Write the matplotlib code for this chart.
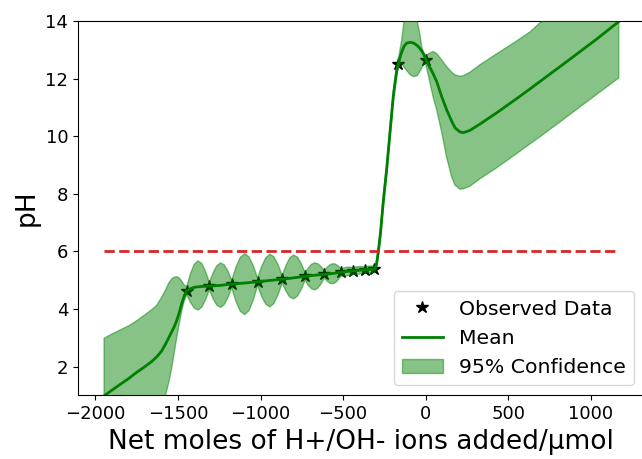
import matplotlib
matplotlib.use("Agg")
import matplotlib.pyplot as plt

# Observed titration points
obs_x = [-1448, -1310, -1175, -1018, -869, -730, -614, -513, -440, -370, -311, -166, 0]
obs_ph = [4.63, 4.79, 4.86, 4.94, 5.03, 5.13, 5.20, 5.27, 5.32, 5.36, 5.38, 12.50, 12.63]

# Model prediction grid
grid_x = [
    -1948, -1900, -1850, -1800, -1750, -1700, -1660, -1630, -1600, -1574, -1556, -1539,
    -1524, -1509, -1494, -1479, -1464, -1448,
    -1425, -1402, -1379, -1356, -1333, -1310,
    -1287, -1265, -1242, -1220, -1197, -1175,
    -1149, -1123, -1096, -1070, -1044, -1018,
    -993, -968, -943, -919, -894, -869,
    -846, -823, -800, -776, -753, -730,
    -711, -691, -672, -653, -633, -614,
    -597, -580, -564, -547, -530, -513,
    -495, -477, -458, -440,
    -423, -405, -388, -370,
    -355, -340, -325, -311,
    -304, -297, -287, -273, -257, -236, -216, -196, -176,
    -166, -156, -145, -131, -115, -95, -75, -51, -35, -24, -12, 0,
    15, 36, 46, 67, 97, 127, 158, 178, 207, 228, 268, 329, 430, 531, 632, 693, 834, 1036, 1170,
]
mean_ph = [
    0.98, 1.18, 1.38, 1.58, 1.80, 2.00, 2.17, 2.33, 2.53, 2.80, 3.00, 3.20,
    3.37, 3.58, 3.84, 4.16, 4.42, 4.63,
    4.70, 4.75, 4.77, 4.78, 4.785, 4.79,
    4.80, 4.81, 4.82, 4.835, 4.85, 4.86,
    4.873, 4.887, 4.90, 4.913, 4.927, 4.94,
    4.957, 4.973, 4.99, 5.003, 5.017, 5.03,
    5.047, 5.063, 5.08, 5.097, 5.113, 5.13,
    5.143, 5.157, 5.17, 5.18, 5.19, 5.20,
    5.21, 5.22, 5.23, 5.243, 5.257, 5.27,
    5.285, 5.30, 5.31, 5.32,
    5.33, 5.34, 5.35, 5.36,
    5.37, 5.37, 5.375, 5.38,
    5.43, 5.56, 5.97, 6.66, 7.70, 8.85, 10.12, 11.38, 12.25,
    12.48, 12.72, 12.92, 13.12, 13.23, 13.26, 13.24, 13.15, 13.05, 12.96, 12.85, 12.68,
    12.50, 12.28, 12.16, 11.90, 11.38, 10.92, 10.52, 10.29, 10.15, 10.12, 10.20, 10.42,
    10.81, 11.22, 11.64, 11.90, 12.50, 13.37, 13.98,
]
lower_ph = [
    -1.00, -0.75, -0.50, -0.25, 0.00, 0.20, 0.40, 0.55, 0.75, 1.04, 1.45, 1.93,
    2.45, 2.96, 3.45, 3.89, 4.25, 4.50,
    4.23, 4.03, 3.96, 4.06, 4.32, 4.66,
    4.35, 4.13, 4.05, 4.15, 4.40, 4.73,
    4.26, 3.92, 3.80, 3.94, 4.31, 4.81,
    4.43, 4.16, 4.07, 4.19, 4.49, 4.90,
    4.62, 4.41, 4.35, 4.45, 4.68, 5.00,
    4.82, 4.70, 4.66, 4.72, 4.87, 5.07,
    4.97, 4.89, 4.87, 4.91, 5.01, 5.14,
    5.15, 5.15, 5.17, 5.20,
    5.20, 5.21, 5.23, 5.25,
    5.26, 5.25, 5.26, 5.27,
    5.31, 5.43, 5.83, 6.50, 7.52, 8.66, 9.93, 11.20, 12.08,
    12.36, 12.50, 12.53, 12.40, 12.28, 12.14, 12.07, 12.10, 12.25, 12.36, 12.50, 12.52,
    12.15, 11.60, 11.35, 10.92, 10.15, 9.27, 8.58, 8.30, 8.16, 8.17, 8.26, 8.52,
    8.90, 9.31, 9.73, 9.98, 10.58, 11.45, 12.02,
]
upper_ph = [
    2.98, 3.13, 3.27, 3.41, 3.59, 3.80, 3.97, 4.12, 4.40, 4.68, 4.90, 5.04,
    5.10, 5.12, 5.08, 4.98, 4.84, 4.76,
    5.22, 5.55, 5.67, 5.58, 5.30, 4.92,
    5.26, 5.50, 5.60, 5.53, 5.31, 4.99,
    5.45, 5.79, 5.92, 5.81, 5.50, 5.07,
    5.48, 5.78, 5.90, 5.81, 5.54, 5.16,
    5.51, 5.77, 5.87, 5.80, 5.57, 5.26,
    5.42, 5.55, 5.60, 5.57, 5.47, 5.33,
    5.45, 5.53, 5.57, 5.56, 5.49, 5.40,
    5.42, 5.45, 5.45, 5.44,
    5.46, 5.47, 5.47, 5.47,
    5.48, 5.49, 5.49, 5.49,
    5.55, 5.69, 6.11, 6.82, 7.88, 9.04, 10.31, 11.56, 12.42,
    12.63, 12.98, 13.34, 14.00, 14.35, 14.50, 14.40, 14.00, 13.55, 13.11, 12.90, 12.80,
    12.85, 12.92, 12.94, 12.87, 12.65, 12.42, 12.22, 12.13, 12.08, 12.10, 12.22, 12.48,
    12.86, 13.23, 13.62, 13.94, 14.45, 15.30, 15.94,
]

threshold_ph = 6
threshold_x = [-1948, 1170]
x_ticks = [-2000, -1500, -1000, -500, 0, 500, 1000]
y_ticks = [2, 4, 6, 8, 10, 12, 14]
legend_labels = ["Observed Data", "Mean", "95% Confidence"]
x_label = "Net moles of H+/OH- ions added/\u03bcmol"
y_label = "pH"

fig = plt.figure(figsize=(6.42, 4.59), dpi=100)
ax = fig.add_axes([78 / 642, (459 - 395.3) / 459, (644.5 - 78) / 642, (395.3 - 21) / 459])

stars, = ax.plot(obs_x, obs_ph, "k*", markersize=9, zorder=2)
mean_line, = ax.plot(grid_x, mean_ph, color="g", linewidth=2, zorder=2)
band = ax.fill_between(grid_x, lower_ph, upper_ph, color="g", alpha=0.47, zorder=3)
ax.plot(threshold_x, [threshold_ph, threshold_ph], color="#d62728", linestyle="--",
        linewidth=2, zorder=5)

ax.set_xlim(-2106, 1326)
ax.set_ylim(1, 14)
ax.set_xticks(x_ticks)
ax.set_yticks(y_ticks)
ax.tick_params(labelsize=13)
ax.set_xlabel(x_label, fontsize=19)
ax.set_ylabel(y_label, fontsize=19)
ax.legend([stars, mean_line, band], legend_labels, loc="lower right", fontsize=14.7)

fig.savefig("out.png", dpi=100)
